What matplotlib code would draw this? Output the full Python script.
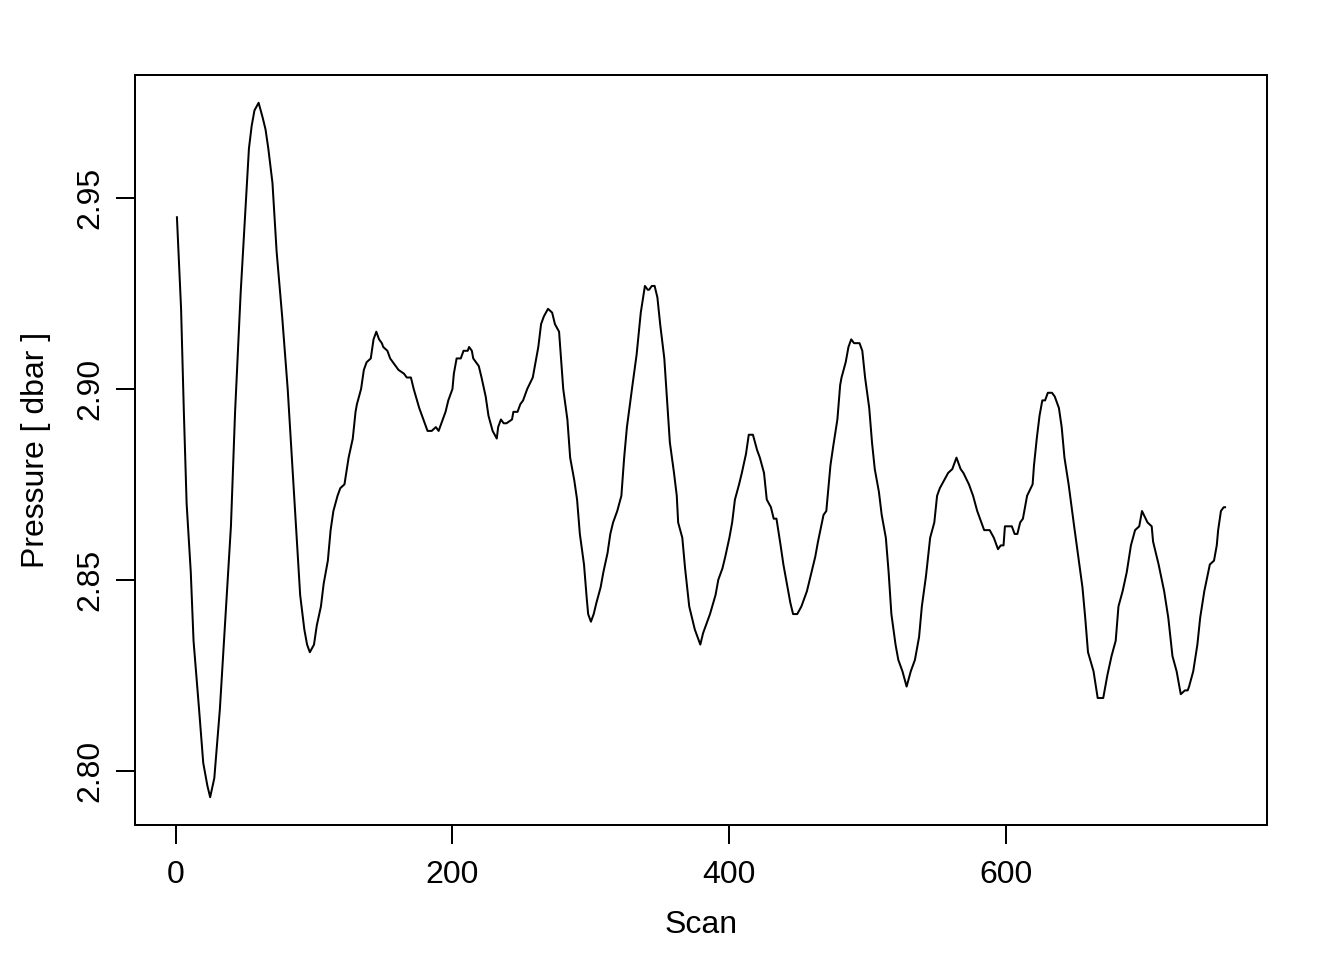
import numpy as np
import matplotlib
matplotlib.use("Agg")
import matplotlib.pyplot as plt

# scan index and pressure [dbar]
scan = [
    1, 4, 6, 8, 11, 13, 17, 20, 23, 25,
    28, 30, 32, 36, 40, 43, 47, 51, 53, 55,
    57, 60, 63, 65, 67, 70, 73, 77, 81, 84,
    88, 90, 93, 95, 97, 100, 102, 105, 107, 110,
    112, 114, 117, 119, 122, 125, 128, 130, 131, 134,
    136, 138, 141, 143, 145, 147, 149, 150, 153, 155,
    159, 161, 165, 167, 170, 172, 176, 178, 182, 185,
    188, 190, 193, 195, 197, 200, 201, 203, 206, 208,
    211, 212, 214, 215, 219, 221, 224, 226, 229, 232,
    233, 235, 237, 239, 243, 244, 247, 249, 251, 254,
    258, 260, 262, 264, 266, 269, 272, 274, 277, 278,
    280, 283, 285, 288, 290, 292, 295, 297, 298, 300,
    302, 304, 307, 309, 312, 314, 316, 319, 322, 324,
    326, 330, 333, 336, 339, 341, 342, 344, 346, 348,
    350, 353, 355, 357, 360, 362, 363, 366, 368, 371,
    373, 375, 379, 381, 384, 386, 390, 392, 395, 397,
    400, 402, 404, 407, 409, 412, 414, 417, 420, 422,
    425, 427, 430, 432, 434, 437, 439, 442, 444, 446,
    448, 449, 452, 456, 460, 462, 464, 468, 470, 473,
    475, 478, 480, 481, 484, 486, 488, 490, 494, 496,
    498, 501, 503, 505, 508, 510, 513, 515, 517, 520,
    522, 525, 528, 531, 534, 537, 539, 542, 545, 548,
    550, 552, 555, 558, 561, 564, 567, 569, 573, 576,
    579, 581, 584, 586, 588, 591, 594, 596, 598, 599,
    604, 606, 608, 610, 612, 615, 619, 620, 622, 624,
    626, 628, 630, 633, 635, 638, 640, 642, 645, 649,
    652, 655, 657, 659, 663, 666, 670, 673, 676, 679,
    681, 684, 687, 690, 693, 696, 698, 702, 705, 706,
    710, 714, 717, 720, 723, 726, 729, 731, 732, 735,
    738, 740, 743, 747, 750, 752, 753, 755, 757, 758,
]
pressure = [
    2.945, 2.921, 2.894, 2.870, 2.852, 2.834, 2.816, 2.802, 2.796, 2.793,
    2.798, 2.807, 2.816, 2.840, 2.864, 2.894, 2.925, 2.950, 2.963, 2.969,
    2.973, 2.975, 2.971, 2.968, 2.963, 2.954, 2.936, 2.919, 2.900, 2.882,
    2.858, 2.846, 2.837, 2.833, 2.831, 2.833, 2.838, 2.843, 2.849, 2.855,
    2.863, 2.868, 2.872, 2.874, 2.875, 2.882, 2.887, 2.894, 2.896, 2.900,
    2.905, 2.907, 2.908, 2.913, 2.915, 2.913, 2.912, 2.911, 2.910, 2.908,
    2.906, 2.905, 2.904, 2.903, 2.903, 2.900, 2.895, 2.893, 2.889, 2.889,
    2.890, 2.889, 2.892, 2.894, 2.897, 2.900, 2.904, 2.908, 2.908, 2.910,
    2.910, 2.911, 2.910, 2.908, 2.906, 2.903, 2.898, 2.893, 2.889, 2.887,
    2.890, 2.892, 2.891, 2.891, 2.892, 2.894, 2.894, 2.896, 2.897, 2.900,
    2.903, 2.907, 2.911, 2.917, 2.919, 2.921, 2.920, 2.917, 2.915, 2.910,
    2.900, 2.892, 2.882, 2.876, 2.871, 2.862, 2.854, 2.845, 2.841, 2.839,
    2.841, 2.844, 2.848, 2.852, 2.857, 2.862, 2.865, 2.868, 2.872, 2.882,
    2.890, 2.901, 2.909, 2.920, 2.927, 2.926, 2.926, 2.927, 2.927, 2.924,
    2.917, 2.908, 2.897, 2.886, 2.878, 2.872, 2.865, 2.861, 2.853, 2.843,
    2.840, 2.837, 2.833, 2.836, 2.839, 2.841, 2.846, 2.850, 2.853, 2.856,
    2.861, 2.865, 2.871, 2.875, 2.878, 2.883, 2.888, 2.888, 2.884, 2.882,
    2.878, 2.871, 2.869, 2.866, 2.866, 2.859, 2.854, 2.848, 2.844, 2.841,
    2.841, 2.841, 2.843, 2.847, 2.853, 2.856, 2.860, 2.867, 2.868, 2.880,
    2.885, 2.892, 2.901, 2.903, 2.907, 2.911, 2.913, 2.912, 2.912, 2.910,
    2.903, 2.895, 2.886, 2.879, 2.873, 2.867, 2.861, 2.852, 2.841, 2.833,
    2.829, 2.826, 2.822, 2.826, 2.829, 2.835, 2.843, 2.851, 2.861, 2.865,
    2.872, 2.874, 2.876, 2.878, 2.879, 2.882, 2.879, 2.878, 2.875, 2.872,
    2.868, 2.866, 2.863, 2.863, 2.863, 2.861, 2.858, 2.859, 2.859, 2.864,
    2.864, 2.862, 2.862, 2.865, 2.866, 2.872, 2.875, 2.880, 2.887, 2.893,
    2.897, 2.897, 2.899, 2.899, 2.898, 2.895, 2.890, 2.882, 2.875, 2.864,
    2.856, 2.848, 2.840, 2.831, 2.826, 2.819, 2.819, 2.825, 2.830, 2.834,
    2.843, 2.847, 2.852, 2.859, 2.863, 2.864, 2.868, 2.865, 2.864, 2.860,
    2.854, 2.847, 2.840, 2.830, 2.826, 2.820, 2.821, 2.821, 2.822, 2.826,
    2.833, 2.840, 2.847, 2.854, 2.855, 2.859, 2.863, 2.868, 2.869, 2.869,
]

x_ticks = [0, 200, 400, 600]
y_ticks = [2.80, 2.85, 2.90, 2.95]
y_tick_labels = ["2.80", "2.85", "2.90", "2.95"]

plt.rcParams['font.family'] = ['Liberation Sans', 'DejaVu Sans']
plt.rcParams['font.size'] = 12

fig = plt.figure(figsize=(7, 5), dpi=192)
ax = fig.add_axes([135/1344, 1 - 825/960, (1267-135)/1344, (825-75)/960])

ax.plot(scan, pressure, color='black', lw=0.75)

# R-style 4% axis padding
x = np.array(scan)
y = np.array(pressure)
xr = x.max() - x.min()
yr = y.max() - y.min()
ax.set_xlim(x.min() - 0.04*xr, x.max() + 0.04*xr)
ax.set_ylim(y.min() - 0.04*yr, y.max() + 0.04*yr)

ax.set_xticks(x_ticks)
ax.set_yticks(y_ticks)
ax.set_yticklabels(y_tick_labels, rotation=90, va='center')
ax.tick_params(direction='out', length=7.2, width=0.75)
ax.tick_params(axis='x', pad=5.8)
ax.tick_params(axis='y', pad=4)

for s in ax.spines.values():
    s.set_linewidth(0.75)

ax.set_xlabel("Scan", labelpad=7.5)
ax.set_ylabel("Pressure [ dbar ]", labelpad=9)

fig.savefig("out.png", dpi=192)
